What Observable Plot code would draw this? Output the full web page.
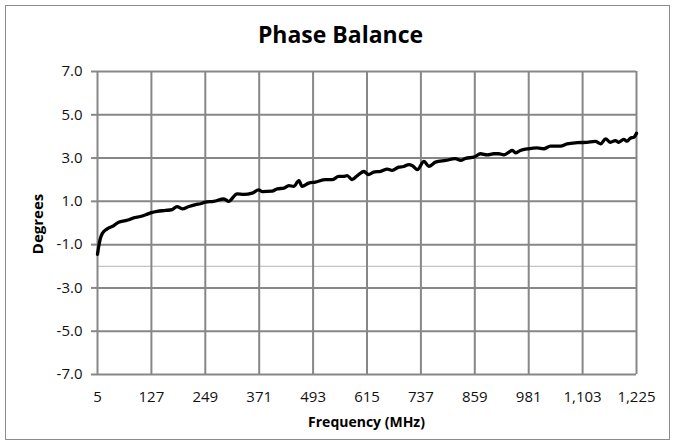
<!DOCTYPE html>
<html>
<head>
<meta charset="utf-8">
<script src="https://cdn.jsdelivr.net/npm/d3@7"></script>
<script src="https://cdn.jsdelivr.net/npm/@observablehq/plot@0.6"></script>
<style>
  html, body { margin: 0; padding: 0; background: #fff; }
  #wrap { position: relative; width: 675px; height: 446px; overflow: hidden; font-family: "Open Sans", sans-serif; }
  #frame { position: absolute; left: 5px; top: 5px; width: 665px; height: 435px; border: 1px solid #8c8c8c; box-sizing: border-box; }
  #title { position: absolute; left: 3px; width: 675px; top: 18px; text-align: center; font-weight: bold; font-size: 23px; color: #000; }
  #xlabel { position: absolute; left: 97px; width: 539px; top: 412px; text-align: center; font-weight: bold; font-size: 14px; color: #000; }
  #ylabel { position: absolute; left: 37px; top: 224px; transform: translate(-50%, -50%) rotate(-90deg); font-weight: bold; font-size: 15px; color: #000; white-space: nowrap; }
  #chart { position: absolute; left: 0; top: 0; }
</style>
</head>
<body>
<div id="wrap">
  <div id="frame"></div>
  <div id="chart"></div>
  <div id="title">Phase Balance</div>
  <div id="xlabel">Frequency (MHz)</div>
  <div id="ylabel">Degrees</div>
</div>
<script>
const freq = [5, 8, 11, 16, 27, 42, 53, 68, 76, 87, 102, 114, 127, 140, 159, 174, 185, 197, 212, 227, 238, 249, 268, 291, 302, 321, 336, 355, 370, 378, 400, 412, 427, 438, 449, 461, 468, 483, 498, 521, 536, 551, 562, 570, 581, 596, 608, 618, 630, 646, 661, 672, 687, 698, 710, 717, 729, 744, 755, 770, 793, 815, 827, 838, 857, 872, 887, 902, 913, 925, 936, 944, 951, 962, 980, 1000, 1015, 1030, 1053, 1068, 1091, 1113, 1132, 1144, 1155, 1166, 1177, 1185, 1196, 1204, 1211, 1219, 1225];
const phase = [-1.45, -1.05, -0.75, -0.48, -0.27, -0.12, 0.04, 0.11, 0.15, 0.24, 0.30, 0.38, 0.48, 0.54, 0.58, 0.62, 0.76, 0.65, 0.76, 0.85, 0.89, 0.96, 1.00, 1.11, 1.00, 1.35, 1.32, 1.38, 1.53, 1.45, 1.47, 1.58, 1.61, 1.73, 1.69, 1.96, 1.69, 1.84, 1.89, 2.00, 2.00, 2.15, 2.15, 2.19, 2.01, 2.24, 2.38, 2.24, 2.35, 2.39, 2.49, 2.43, 2.58, 2.61, 2.70, 2.66, 2.47, 2.85, 2.62, 2.81, 2.89, 2.97, 2.89, 2.99, 3.04, 3.20, 3.15, 3.20, 3.20, 3.15, 3.27, 3.36, 3.24, 3.35, 3.43, 3.47, 3.43, 3.55, 3.55, 3.66, 3.71, 3.73, 3.77, 3.66, 3.89, 3.73, 3.81, 3.73, 3.86, 3.78, 3.92, 3.96, 4.15];
const xTicks = [5, 127, 249, 371, 493, 615, 737, 859, 981, 1103, 1225];
const yTicks = [-7, -5, -3, -1, 1, 3, 5, 7];
const minorY = [-2];

const data = freq.map((f, i) => ({f, v: phase[i]}));
const grid = "#878787";

const chart = Plot.plot({
  width: 675,
  height: 446,
  marginLeft: 97,
  marginRight: 39,
  marginTop: 71,
  marginBottom: 72,
  style: { fontFamily: "Open Sans, sans-serif", fontSize: "15px", color: "#111", background: "transparent" },
  x: { domain: [5, 1225] },
  y: { domain: [-7, 7] },
  marks: [
    Plot.ruleY(minorY, { stroke: "#b4b4b4", strokeWidth: 1 }),
    Plot.ruleY(yTicks, { stroke: grid, strokeWidth: 2 }),
    Plot.ruleX(xTicks, { stroke: grid, strokeWidth: 2 }),
    Plot.axisY({ ticks: yTicks, tickFormat: d => d.toFixed(1), tickSize: 6, tickPadding: 9, stroke: grid, strokeWidth: 2, label: null, fontSize: 15 }),
    Plot.axisX({ ticks: xTicks, tickFormat: d3.format(","), tickSize: 0, tickPadding: 17, label: null, fontSize: 15 }),
    Plot.line(data, { x: "f", y: "v", stroke: "#000", strokeWidth: 3.3, strokeLinejoin: "round", curve: "monotone-x" })
  ]
});
document.getElementById("chart").appendChild(chart);
</script>
</body>
</html>
